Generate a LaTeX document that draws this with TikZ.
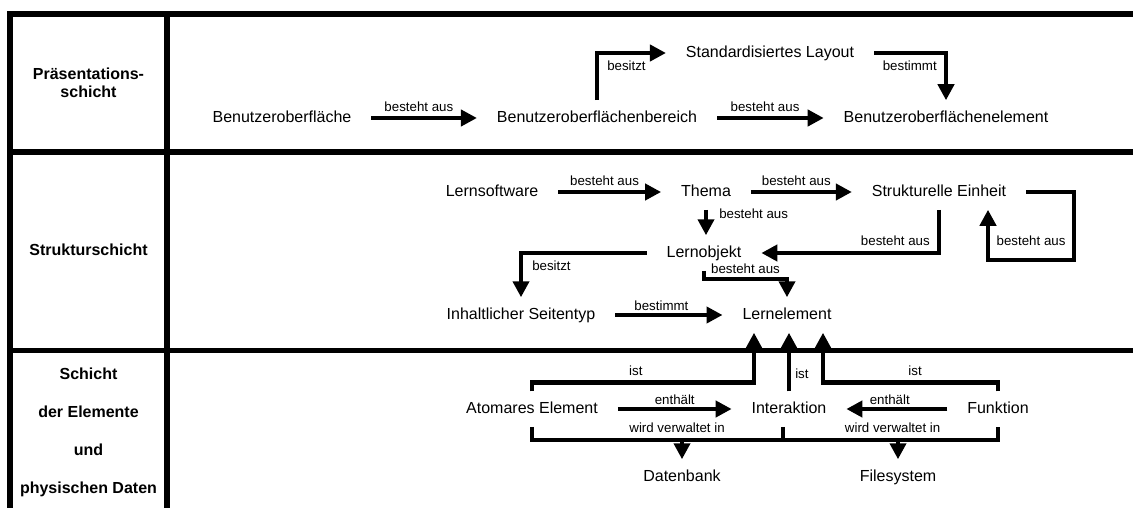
\documentclass[tikz,border=0pt]{standalone}
\usepackage{fontspec}
\setmainfont{Liberation Sans}
\usetikzlibrary{arrows.meta}
\begin{document}
\begin{tikzpicture}[x=1pt,y=-1pt,
  rule/.style={line width=5.5pt},
  item/.style={font=\fontsize{16}{19}\selectfont, inner sep=0pt, outer xsep=20pt, outer ysep=10pt, text height=12pt, text depth=3.5pt},
  head/.style={font=\fontsize{16}{19}\selectfont\bfseries, inner sep=0pt, anchor=base},
  lbl/.style={font=\fontsize{13.3}{15}\selectfont, inner sep=0pt, text height=9.5pt, text depth=2.7pt},
  conn/.style={line width=4.5pt},
  arr/.style={conn, -{Triangle[length=16pt,width=16pt]}},
]
\useasboundingbox (0,0) rectangle (1133,508);

% layer grid
\draw[rule] (1133,14) -- (10,14) -- (10,508);
\draw[rule] (167,14) -- (167,508);
\draw[rule] (10,152) -- (1133,152);
\draw[rule] (10,350.5) -- (1133,350.5);

% layer headings
\node[head] (hp1) at (88.5,80) {Präsentations-};
\node[head] (hp2) at (88.5,98) {schicht};
\node[head] (hs) at (88.5,255) {Strukturschicht};
\node[head] (he1) at (88.5,379) {Schicht};
\node[head] (he2) at (88.5,417) {der Elemente};
\node[head] (he3) at (88.5,455) {und};
\node[head] (he4) at (88.5,493) {physischen Daten};

% presentation layer
\node[item] (ui) at (282,118) {Benutzeroberfläche};
\node[item] (uib) at (597,118) {Benutzeroberflächenbereich};
\node[item] (uie) at (946,118) {Benutzeroberflächenelement};
\node[item] (lay) at (770,53) {Standardisiertes Layout};

% structure layer
\node[item] (ls) at (492,192) {Lernsoftware};
\node[item] (th) at (706,192) {Thema};
\node[item] (se) at (939,192) {Strukturelle Einheit};
\node[item] (lo) at (704,253) {Lernobjekt};
\node[item] (st) at (521,315) {Inhaltlicher Seitentyp};
\node[item] (le) at (787,315) {Lernelement};

% element and data layer
\node[item] (ae) at (532,409) {Atomares Element};
\node[item] (ia) at (789,409) {Interaktion};
\node[item] (fk) at (998,409) {Funktion};
\node[item] (db) at (682,477) {Datenbank};
\node[item] (fs) at (898,477) {Filesystem};

% presentation layer relations
\draw[arr] (ui) -- node[lbl,above=2pt,pos=0.45]{besteht aus} (uib);
\draw[arr] (uib) -- node[lbl,above=2pt,pos=0.45]{besteht aus} (uie);
\draw[arr] (uib.north) |- node[lbl,anchor=north west,xshift=8pt,yshift=-6pt,pos=0.5]{besitzt} (lay.west);
\draw[arr] (lay.east) -| node[lbl,anchor=north east,xshift=-7pt,yshift=-6pt,pos=0.5]{bestimmt} (uie.north);

% structure layer relations
\draw[arr] (ls) -- node[lbl,above=2pt,pos=0.45]{besteht aus} (th);
\draw[arr] (th) -- node[lbl,above=2pt,pos=0.45]{besteht aus} (se);
\draw[arr] (th.south) -- node[lbl,anchor=west,xshift=11pt,pos=0.2]{besteht aus} (th.south |- lo.north);
\draw[arr] (se.south) |- node[lbl,anchor=south east,xshift=-7pt,yshift=3pt,pos=0.5]{besteht aus} (lo.east);
\draw[arr] (se.east) -| ++(48,68) -| node[lbl,above=10pt,pos=0.25]{besteht aus} ([xshift=49pt]se.south);
\draw[arr] (lo.west) -| node[lbl,anchor=north west,xshift=9pt,yshift=-5.5pt,pos=0.5]{besitzt} (st.north);
\draw[arr] (st) -- node[lbl,above=-0.5pt,pos=0.43]{bestimmt} (le);
\draw[arr] (lo.south) -- ++(0,8) -| node[lbl,above=0pt,pos=0.25]{besteht aus} (le.north);

% element layer relations
\draw[arr] (ae.north) -- ++(0,-9) -| node[lbl,above=1.5pt,pos=0.234]{ist} ([xshift=-33pt]le.south);
\draw[arr] (ia.north) -- node[lbl,anchor=west,xshift=4pt,pos=0.28]{ist} (ia.north |- le.south);
\draw[arr] (fk.north) -- ++(0,-9) -| node[lbl,above=1.5pt,pos=0.237]{ist} ([xshift=36pt]le.south);
\draw[arr] (ae) -- node[lbl,above=0pt]{enthält} (ia);
\draw[arr] (fk) -- node[lbl,above=0pt,pos=0.57]{enthält} (ia);

% storage relations
\draw[conn] (ae.south) -- ++(0,13) -| node[lbl,above=2.3pt,pos=0.289]{wird verwaltet in} coordinate[pos=0.25] (j1) ([xshift=-6pt]ia.south);
\draw[arr] (db.north |- j1) -- (db.north);
\draw[conn] ([xshift=-6pt]ia.south) -- ++(0,13) -| node[lbl,above=2.3pt,pos=0.255]{wird verwaltet in} coordinate[pos=0.25] (j2) (fk.south);
\draw[arr] (fs.north |- j2) -- (fs.north);
\end{tikzpicture}
\end{document}
